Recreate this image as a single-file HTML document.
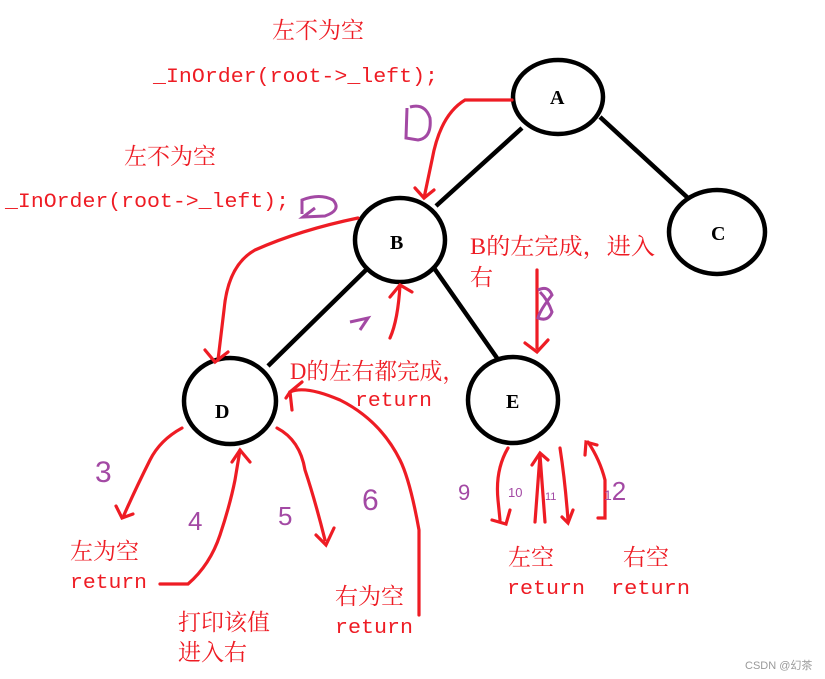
<!DOCTYPE html>
<html><head><meta charset="utf-8"><style>
html,body{margin:0;padding:0;background:#fff;}
svg{display:block;}
.t{font-family:"Liberation Serif","Noto Serif CJK SC",serif;fill:#ee1c24;font-size:23px;}
.m{font-family:"Liberation Mono","Noto Sans CJK SC",monospace;fill:#ee1c24;font-size:20px;}
.n{font-family:"Liberation Serif",serif;font-weight:bold;font-size:20px;fill:#000;}
.p{font-family:"Liberation Sans",sans-serif;fill:#a349a4;}
</style></head><body>
<svg width="825" height="679" viewBox="0 0 825 679" xmlns="http://www.w3.org/2000/svg">
<g stroke="#000" stroke-width="4.5" fill="none">
<line x1="522" y1="128" x2="436" y2="206"/>
<line x1="600" y1="117" x2="688" y2="198"/>
<line x1="368" y1="268" x2="268" y2="366"/>
<line x1="434" y1="268" x2="497" y2="358"/>
<ellipse cx="558" cy="97" rx="45" ry="37"/>
<ellipse cx="400" cy="240" rx="45" ry="42"/>
<ellipse cx="717" cy="232" rx="48" ry="42"/>
<ellipse cx="230" cy="401" rx="46" ry="43"/>
<ellipse cx="513" cy="400" rx="45" ry="43"/>
</g>
<text class="n" x="550" y="104">A</text>
<text class="n" x="390" y="249">B</text>
<text class="n" x="711" y="240">C</text>
<text class="n" x="215" y="418">D</text>
<text class="n" x="506" y="408">E</text>

<g stroke="#ee1c24" stroke-width="3.2" fill="none" stroke-linecap="round">
<path d="M512 100 L465 100 Q440 115 432 160 L424 198"/><path d="M415 188 L424 198 L434 190"/>
<path d="M358 218 Q300 230 255 250 Q228 265 224 310 L218 360"/><path d="M205 350 L215 362 L228 352"/>
<path d="M537 270 L537 348"/><path d="M525 343 L537 352 L548 340"/>
<path d="M390 338 Q398 320 400 285"/><path d="M390 297 L400 285 L412 292"/>
<path d="M182 428 Q160 440 150 460 Q135 490 124 515"/><path d="M116 506 L122 518 L133 514"/>
<path d="M160 584 L188 584 Q210 565 220 535 Q230 505 235 480 L240 450"/><path d="M232 462 L240 450 L250 462"/>
<path d="M277 428 Q300 440 305 470 Q315 500 325 540"/><path d="M316 535 L326 545 L334 528"/>
<path d="M419 615 L419 530 Q410 480 400 460 Q380 420 340 400 Q305 385 290 392 L292 410"/><path d="M286 398 L290 392 L302 382"/>
<path d="M508 448 Q495 470 498 500 L500 520"/><path d="M492 520 L506 524 L510 510"/>
<path d="M535 522 L540 455"/><path d="M532 465 L540 453 L548 460"/><path d="M545 522 L540 455"/>
<path d="M560 448 Q565 480 568 520"/><path d="M562 517 L568 523 L573 510"/>
<path d="M598 518 L605 518 L605 480 Q600 460 588 442"/><path d="M585 455 L586 442 L597 445"/>
</g>

<g stroke="#a349a4" stroke-width="3" fill="none">
<path d="M407 108 L406 138 L418 140 Q432 138 430 118 Q425 103 410 107"/>
<path d="M302 214 L302 200 Q320 193 333 200 Q342 210 325 216 L303 217 L315 208"/>
<path d="M350 322 L368 318 L360 330"/>
<path d="M538 290 Q548 285 552 295 Q540 310 538 318 Q548 322 552 312 Q548 300 540 292"/>
</g>
<text class="p" x="95" y="482" style="font-size:30px">3</text>
<text class="p" x="188" y="530" style="font-size:26px">4</text>
<text class="p" x="278" y="525" style="font-size:26px">5</text>
<text class="p" x="362" y="510" style="font-size:30px">6</text>
<text class="p" x="458" y="500" style="font-size:22px">9</text>
<text class="p" x="508" y="497" style="font-size:13px">10</text>
<text class="p" x="545" y="500" style="font-size:11px">11</text>
<text class="p" x="604" y="500" style="font-size:26px"><tspan style="font-size:14px">1</tspan>2</text>

<text class="t" x="272" y="38">左不为空</text>
<text class="m" x="153" y="82" textLength="285" lengthAdjust="spacingAndGlyphs">_InOrder(root-&gt;_left);</text>
<text class="t" x="124" y="164">左不为空</text>
<text class="m" x="5" y="207" textLength="284" lengthAdjust="spacingAndGlyphs">_InOrder(root-&gt;_left);</text>
<text class="t" x="470" y="254" textLength="185" lengthAdjust="spacingAndGlyphs">B的左完成，进入</text>
<text class="t" x="470" y="285">右</text>
<text class="t" x="290" y="379" textLength="175" lengthAdjust="spacingAndGlyphs">D的左右都完成，</text>
<text class="m" x="355" y="406" textLength="77" lengthAdjust="spacingAndGlyphs">return</text>
<text class="t" x="70" y="559">左为空</text>
<text class="m" x="70" y="588" textLength="77" lengthAdjust="spacingAndGlyphs">return</text>
<text class="t" x="178" y="630">打印该值</text>
<text class="t" x="178" y="660">进入右</text>
<text class="t" x="335" y="604">右为空</text>
<text class="m" x="335" y="633" textLength="78" lengthAdjust="spacingAndGlyphs">return</text>
<text class="t" x="508" y="565">左空</text>
<text class="m" x="507" y="594" textLength="78" lengthAdjust="spacingAndGlyphs">return</text>
<text class="t" x="623" y="565">右空</text>
<text class="m" x="611" y="594" textLength="79" lengthAdjust="spacingAndGlyphs">return</text>
<text x="745" y="669" font-family="Liberation Sans, Noto Sans CJK SC, sans-serif" font-size="11" fill="#999">CSDN @幻茶</text>
</svg>
</body></html>
